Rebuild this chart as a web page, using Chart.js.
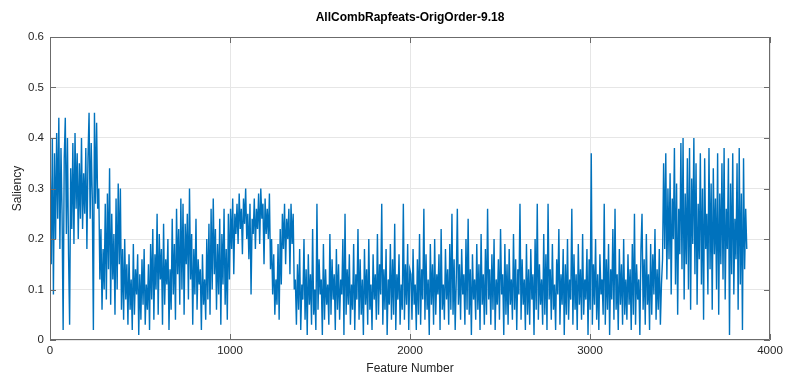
<!DOCTYPE html>
<html>
<head>
<meta charset="utf-8">
<script src="https://cdn.jsdelivr.net/npm/chart.js@4/dist/chart.umd.min.js"></script>
<style>
  html, body { margin: 0; padding: 0; background: #fff; }
</style>
</head>
<body>
<canvas id="myChart" width="791" height="382"></canvas>
<script>
// saliency, one value every 6 features starting at feature 1
var featureStep = 6;
var firstFeature = 1;

// features 1 - 265, high band
var segA = [0.35,0.15,0.40,0.09,0.37,0.20,0.41,0.24,0.44,0.18,0.38,0.25,0.02,0.36,0.44,0.21,0.40,0.17,0.03,0.34,
  0.22,0.39,0.19,0.41,0.26,0.37,0.20,0.35,0.24,0.40,0.22,0.33,0.25,0.38,0.18,0.36,0.45,0.24,0.39,0.28,
  0.02,0.45,0.27,0.43,0.26];
// features 271 - 397, the drop
var segB = [0.30,0.12,0.22,0.06,0.18,0.10,0.27,0.08,0.29,0.14,0.34,0.07,0.25,0.12,0.21,0.05,0.28,0.10,0.31,0.15,
  0.30,0.06];
// features 403 - 997, striped blocks
var segC = [0.18,0.04,0.20,0.08,0.15,0.03,0.17,0.06, 0.12,0.02,0.19,0.05,0.14,0.09,0.17,0.01,
  0.13,0.04,0.16,0.07,0.18,0.03,0.11,0.06, 0.15,0.02,0.19,0.08,0.22,0.04,0.17,0.10,
  0.25,0.05,0.21,0.12,0.18,0.03,0.23,0.07, 0.16,0.11,0.20,0.02,0.14,0.06,0.24,0.09,
  0.19,0.04,0.26,0.13,0.22,0.07,0.28,0.10, 0.27,0.05,0.23,0.15,0.25,0.08,0.30,0.12,
  0.21,0.03,0.18,0.09,0.24,0.06,0.16,0.11, 0.14,0.02,0.17,0.07,0.12,0.04,0.20,0.08,
  0.23,0.05,0.26,0.10,0.28,0.13,0.22,0.06, 0.19,0.09,0.24,0.03,0.21,0.11,0.26,0.07,
  0.18,0.04,0.25,0.12];
// features 1003 - 1225, plateau around 0.25
var segD = [0.26,0.18,0.28,0.13,0.25,0.21,0.27,0.19, 0.29,0.22,0.26,0.17,0.28,0.23,0.30,0.20,
  0.25,0.16,0.27,0.09,0.24,0.21,0.28,0.18, 0.26,0.22,0.29,0.19,0.30,0.24,0.27,0.15,
  0.28,0.21,0.26,0.20,0.29,0.14];
// features 1231 - 1357
var segE = [0.20,0.09,0.17,0.05,0.12,0.07,0.19,0.04, 0.22,0.11,0.25,0.18,0.27,0.15,0.24,0.20,
  0.26,0.13,0.27,0.19,0.25,0.10];
// features 1363 - 1999, low noisy band
var segF1 = [0.12,0.03,0.15,0.06,0.18,0.02,0.11,0.08,0.20,0.04,
  0.14,0.01,0.17,0.07,0.13,0.03,0.22,0.05,0.10,0.02,
  0.27,0.06,0.16,0.09,0.12,0.01,0.19,0.04,0.14,0.07,
  0.11,0.03,0.21,0.05,0.16,0.08,0.13,0.02,0.18,0.06,
  0.15,0.04,0.12,0.09,0.20,0.01,0.25,0.05,0.14,0.07,
  0.17,0.03,0.11,0.06,0.19,0.02,0.13,0.08,0.22,0.04,
  0.16,0.05,0.12,0.01,0.18,0.07,0.14,0.03,0.20,0.06,
  0.11,0.02,0.17,0.08,0.13,0.04,0.21,0.05,0.15,0.09,
  0.27,0.03,0.14,0.06,0.18,0.01,0.12,0.07,0.19,0.04,
  0.16,0.05,0.23,0.02,0.13,0.08,0.17,0.03,0.11,0.06,
  0.27,0.04,0.15,0.07,0.19,0.02,0.14];
// features 2005 - 2599
var segF2 = [0.13,0.04,0.18,0.07,0.11,0.02,0.16,0.05,0.21,0.03,
  0.14,0.08,0.26,0.04,0.17,0.06,0.12,0.01,0.19,0.07,
  0.15,0.03,0.20,0.05,0.13,0.09,0.17,0.02,0.22,0.06,
  0.11,0.04,0.18,0.08,0.14,0.03,0.19,0.06,0.25,0.05,
  0.16,0.02,0.12,0.26,0.07,0.15,0.04,0.18,0.09,0.13,
  0.03,0.20,0.06,0.24,0.05,0.14,0.01,0.17,0.08,0.12,
  0.04,0.19,0.06,0.15,0.02,0.21,0.07,0.13,0.03,0.18,
  0.05,0.26,0.08,0.14,0.03,0.17,0.06,0.20,0.02,0.12,
  0.07,0.16,0.04,0.22,0.09,0.13,0.01,0.19,0.05,0.15,
  0.03,0.18,0.07,0.12,0.04,0.21,0.06,0.16,0.02,0.14];
// features 2605 - 3199
var segF3 = [0.09,0.27,0.04,0.16,0.07,0.12,0.02,0.19,0.05,0.14,
  0.03,0.18,0.08,0.13,0.01,0.20,0.06,0.27,0.04,0.15,
  0.07,0.12,0.03,0.21,0.05,0.17,0.02,0.27,0.08,0.14,
  0.04,0.19,0.06,0.11,0.02,0.16,0.09,0.22,0.03,0.13,
  0.07,0.18,0.01,0.15,0.05,0.20,0.04,0.12,0.08,0.26,
  0.03,0.17,0.06,0.13,0.02,0.19,0.07,0.14,0.04,0.21,
  0.05,0.12,0.08,0.18,0.01,0.16,0.06,0.37,0.03,0.15,
  0.07,0.20,0.04,0.13,0.02,0.17,0.09,0.12,0.05,0.27,
  0.03,0.16,0.06,0.19,0.01,0.14,0.08,0.22,0.04,0.26,
  0.06,0.13,0.02,0.18,0.07,0.15,0.03,0.20,0.05,0.12];
// features 3205 - 3403
var segF4 = [0.04,0.17,0.07,0.14,0.02,0.19,0.05,0.25,0.03,0.15,
  0.08,0.12,0.01,0.18,0.25,0.06,0.16,0.03,0.21,0.07,
  0.13,0.02,0.19,0.05,0.17,0.09,0.22,0.04,0.14,0.06,
  0.18,0.03,0.11,0.16];
// features 3409 - 3871, the high band at the end
var segG = [0.35,0.18,0.37,0.12,0.30,0.16,0.33,0.09,0.28,0.20,
  0.38,0.11,0.31,0.05,0.26,0.17,0.39,0.14,0.40,0.08,
  0.29,0.15,0.36,0.10,0.38,0.06,0.32,0.19,0.40,0.13,
  0.35,0.07,0.27,0.16,0.37,0.11,0.30,0.04,0.36,0.18,
  0.25,0.09,0.38,0.14,0.31,0.06,0.34,0.17,0.28,0.10,
  0.37,0.05,0.29,0.15,0.35,0.12,0.38,0.08,0.26,0.18,
  0.36,0.01,0.31,0.13,0.37,0.09,0.24,0.16,0.35,0.06,
  0.38,0.11,0.29,0.02,0.36,0.14,0.26,0.18];

var xTicks = [0, 1000, 2000, 3000, 4000];
var yTicks = [0, 0.1, 0.2, 0.3, 0.4, 0.5, 0.6];

var saliency = [].concat(segA, segB, segC, segD, segE, segF1, segF2, segF3, segF4, segG);
var points = saliency.map(function (v, i) {
  return { x: firstFeature + i * featureStep, y: v };
});

var fontName = "'Liberation Sans', Arial, sans-serif";
var textColor = '#262626';

// matlab style box with ticks pointing inwards
var boxPlugin = {
  id: 'box',
  afterDraw: function (chart) {
    var ctx = chart.ctx;
    var a = chart.chartArea;
    var xs = chart.scales.x, ys = chart.scales.y;
    var len = 6;
    ctx.save();
    ctx.strokeStyle = '#6b6b6b';
    ctx.lineWidth = 1;
    ctx.beginPath();
    ctx.rect(Math.round(a.left) + 0.5, Math.round(a.top) + 0.5,
      Math.round(a.right - a.left) - 1, Math.round(a.bottom - a.top) - 1);
    xTicks.forEach(function (t) {
      var px = Math.round(xs.getPixelForValue(t)) + 0.5;
      ctx.moveTo(px, a.bottom); ctx.lineTo(px, a.bottom - len);
      ctx.moveTo(px, a.top); ctx.lineTo(px, a.top + len);
    });
    yTicks.forEach(function (t) {
      var py = Math.round(ys.getPixelForValue(t)) + 0.5;
      ctx.moveTo(a.left, py); ctx.lineTo(a.left + len, py);
      ctx.moveTo(a.right, py); ctx.lineTo(a.right - len, py);
    });
    ctx.stroke();
    ctx.restore();
  }
};

var bgPlugin = {
  id: 'bg',
  beforeDraw: function (chart) {
    var ctx = chart.ctx;
    ctx.save();
    ctx.fillStyle = '#fff';
    ctx.fillRect(0, 0, chart.width, chart.height);
    ctx.restore();
  }
};

const ctx = document.getElementById('myChart');

const chart = new Chart(ctx, {
  type: 'line',
  data: {
    datasets: [{
      label: 'Saliency',
      data: points,
      borderColor: '#0072BD',
      borderWidth: 1.4,
      pointRadius: 0,
      tension: 0,
      fill: false
    }]
  },
  options: {
    responsive: false,
    animation: false,
    devicePixelRatio: 1,
    layout: { padding: { left: 0, right: 21, top: 0, bottom: 0 } },
    plugins: {
      legend: { display: false },
      tooltip: { enabled: false },
      title: {
        display: true,
        fullSize: false,
        text: 'AllCombRapfeats-OrigOrder-9.18',
        color: '#000',
        font: { family: fontName, size: 12, weight: 'bold' },
        padding: { top: 10, bottom: 12.6 }
      }
    },
    scales: {
      x: {
        type: 'linear',
        min: 0,
        max: 4000,
        afterFit: function (s) { s.height = 42; },
        afterBuildTicks: function (s) { s.ticks = xTicks.map(function (v) { return { value: v }; }); },
        ticks: {
          color: textColor,
          font: { family: fontName, size: 11.5 },
          padding: 4,
          maxRotation: 0,
          callback: function (v) { return String(v); }
        },
        grid: { color: '#e6e6e6', drawTicks: false },
        border: { display: false },
        title: {
          display: true,
          text: 'Feature Number',
          color: textColor,
          font: { family: fontName, size: 12 },
          padding: { top: 0, bottom: 6 }
        }
      },
      y: {
        min: 0,
        max: 0.6,
        afterFit: function (s) { s.width = 50; },
        afterBuildTicks: function (s) { s.ticks = yTicks.map(function (v) { return { value: v }; }); },
        ticks: {
          color: textColor,
          font: { family: fontName, size: 11.5 },
          padding: 6,
          callback: function (v) { return String(+v.toFixed(1)); }
        },
        grid: { color: '#e6e6e6', drawTicks: false },
        border: { display: false },
        title: {
          display: true,
          text: 'Saliency',
          color: textColor,
          font: { family: fontName, size: 12 },
          padding: { top: 10, bottom: 0 }
        }
      }
    }
  },
  plugins: [bgPlugin, boxPlugin]
});
</script>
</body>
</html>
